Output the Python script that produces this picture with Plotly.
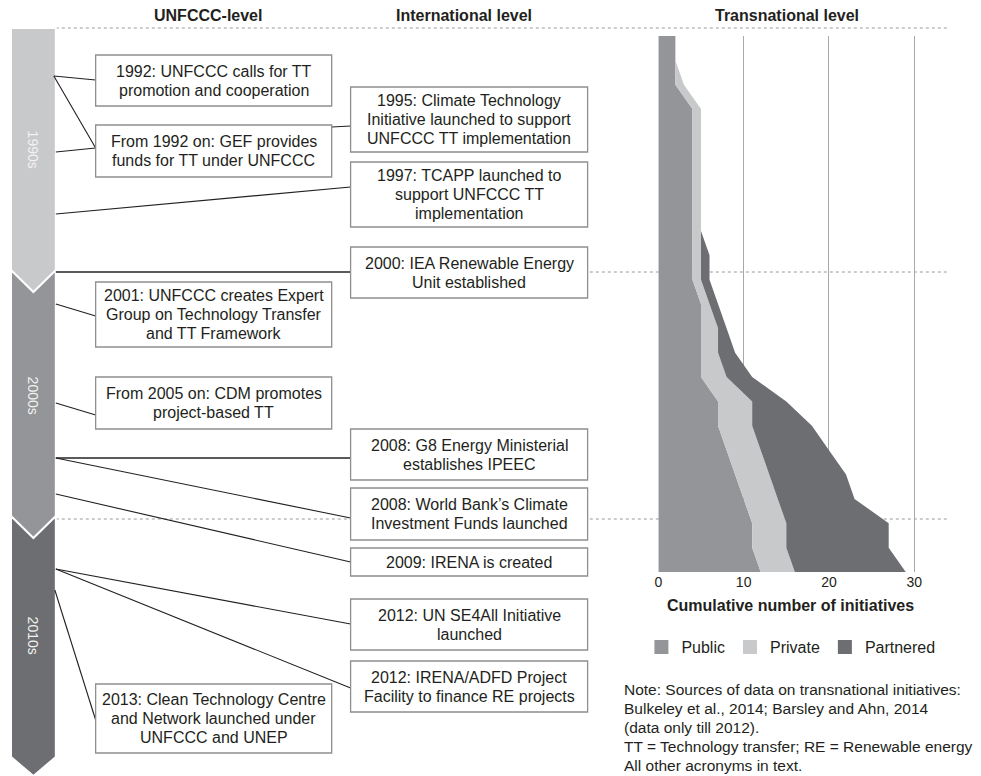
import plotly.graph_objects as go

W, H = 981, 776          # reference picture size (pixels)
OFF = 8                  # page body margin: the figure starts 8px in from the window corner
FONT = "Liberation Sans, Arial, Helvetica, sans-serif"
INK = "#231f20"

# ---------------- data (transnational initiatives, cumulative) ----------------
years = list(range(1990, 2013))
public = [2, 2, 2, 4, 4, 4, 4, 4, 4, 4, 4, 5, 5, 5, 5, 7, 7, 8, 9, 10, 11, 11, 12]
private = [0, 0, 1, 1, 1, 1, 1, 1, 1, 1, 1, 1, 2, 2, 3, 4, 4, 4, 4, 4, 4, 4, 4]
partnered = [0, 0, 0, 0, 0, 0, 0, 0, 0, 1, 1, 1, 1, 2, 3, 4, 7, 8, 9, 9, 12, 12, 13]
series_names = ["Public", "Private", "Partnered"]
series_colors = ["#939598", "#c8c9cb", "#6d6e71"]
x_ticks = [0, 10, 20, 30]

column_titles = ["UNFCCC-level", "International level", "Transnational level"]
decades = ["1990s", "2000s", "2010s"]
decade_colors = ["#c8c9cb", "#939598", "#6d6e71"]

box_texts = [
    ["1992: UNFCCC calls for TT", "promotion and cooperation"],
    ["From 1992 on: GEF provides", "funds for TT under UNFCCC"],
    ["1995: Climate Technology", "Initiative launched to support", "UNFCCC TT implementation"],
    ["1997: TCAPP launched to", "support UNFCCC TT", "implementation"],
    ["2000: IEA Renewable Energy", "Unit established"],
    ["2001: UNFCCC creates Expert", "Group on Technology Transfer", "and TT Framework"],
    ["From 2005 on: CDM promotes", "project-based TT"],
    ["2008: G8 Energy Ministerial", "establishes IPEEC"],
    ["2008: World Bank\u2019s Climate", "Investment Funds launched"],
    ["2009: IRENA is created"],
    ["2012: UN SE4All Initiative", "launched"],
    ["2012: IRENA/ADFD Project", "Facility to finance RE projects"],
    ["2013: Clean Technology Centre", "and Network launched under", "UNFCCC and UNEP"],
]

note_lines = [
    "Note: Sources of data on transnational initiatives:",
    "Bulkeley et al., 2014; Barsley and Ahn, 2014",
    "(data only till 2012).",
    "TT = Technology transfer; RE = Renewable energy",
    "All other acronyms in text.",
]
axis_title = "Cumulative number of initiatives"

# ---------------- layout geometry (reference pixels) ----------------
LX0, LX1 = 92, 329      # UNFCCC column boxes
RX0, RX1 = 348, 586     # international column boxes
box_rows = [(55, 106), (125, 177), (87, 152), (162, 227), (247, 298), (282, 347),
            (377, 429), (429, 480), (488, 540), (548, 576), (599, 650), (661, 712), (684, 753)]
box_cols = ["L", "L", "R", "R", "R", "L", "L", "R", "R", "R", "R", "R", "L"]

connectors = [  # (x0, y0, x1, y1, style)
    (50, 76, 92, 80, "thin"), (50, 76, 92, 148, "thin"), (52, 152, 92, 148, "thin"),
    (329, 127, 348, 126, "thin"), (52, 214, 348, 187, "thin"),
    (52, 272, 348, 272, "thick"), (52, 304, 92, 316, "thin"), (52, 403, 92, 415, "thin"),
    (52, 458, 348, 458, "thick"), (52, 458, 348, 518, "thin"), (52, 494, 348, 562, "thin"),
    (52, 569, 348, 624, "thin"), (52, 569, 348, 688, "thin"), (51, 590, 92, 720, "thin"),
]
dotted_y = [28, 272, 519]

# chart placement
CH_X0 = 657           # pixel of x = 0
PX_PER_UNIT = 8.567
X_MAX = 31
CH_TOP, CH_BOT = 36, 572

FW, FH = W - OFF, H - OFF


def px_x(p):
    return (p - OFF) / FW


def px_y(p):
    return 1 - (p - OFF) / FH


fig = go.Figure()

# stacked areas
for name, vals, col in zip(series_names, [public, private, partnered], series_colors):
    fig.add_trace(go.Scatter(
        x=vals, y=years, xaxis="x2", yaxis="y2", stackgroup="one", orientation="h",
        mode="none", fillcolor=col, name=name, showlegend=False, hoverinfo="skip"))
# legend entries (square swatches)
for name, col in zip(series_names, series_colors):
    fig.add_trace(go.Scatter(
        x=[None], y=[None], xaxis="x2", yaxis="y2", mode="markers", name=name,
        marker=dict(symbol="square", size=14, color=col), showlegend=True))

shapes = []
# dotted decade separators (below the chart)
for yy in dotted_y:
    shapes.append(dict(type="line", xref="x", yref="y", x0=52, x1=947, y0=yy, y1=yy,
                       line=dict(color="#9a9a9a", width=1, dash="dot"), layer="below"))

# decade arrow segments (drawn bottom to top so the chevrons overlap)
seg_paths = [
    "M7,518 L52,518 L52,757 L29.5,776 L7,757 Z",
    "M7,272 L52,272 L52,516 L29.5,538 L7,516 Z",
    "M7,28 L52,28 L52,270 L29.5,292 L7,270 Z",
]
for path, col in zip(seg_paths, decade_colors[::-1]):
    shapes.append(dict(type="path", xref="x", yref="y", path=path, fillcolor=col,
                       line=dict(color="white", width=2), layer="above"))

# connectors
for x0, y0, x1, y1, st in connectors:
    ln = dict(color=INK, width=1.1) if st == "thin" else dict(color="#5a5a5a", width=2)
    shapes.append(dict(type="line", xref="x", yref="y", x0=x0, y0=y0, x1=x1, y1=y1,
                       line=ln, layer="above"))

annotations = []
# boxes
for lines, (y0, y1), col in zip(box_texts, box_rows, box_cols):
    x0, x1 = (LX0, LX1) if col == "L" else (RX0, RX1)
    shapes.append(dict(type="rect", xref="x", yref="y", x0=x0, x1=x1, y0=y0, y1=y1,
                       fillcolor="white", line=dict(color="#8f8f8f", width=1.3), layer="above"))
    cx, cy = (x0 + x1) / 2, (y0 + y1) / 2
    n = len(lines)
    for i, t in enumerate(lines):
        annotations.append(dict(xref="x", yref="y", x=cx, y=cy + (i - (n - 1) / 2) * 19,
                                text=t, showarrow=False, xanchor="center", yanchor="middle",
                                font=dict(family=FONT, size=16, color=INK)))

# column titles
for t, cx in zip(column_titles, [205, 462, 786]):
    annotations.append(dict(xref="x", yref="y", x=cx, y=15, text="<b>%s</b>" % t,
                            showarrow=False, xanchor="center", yanchor="middle",
                            font=dict(family=FONT, size=16, color=INK)))

# decade labels
for t, cy in zip(decades, [150, 396, 636]):
    annotations.append(dict(xref="x", yref="y", x=29.5, y=cy, text=t, textangle=90,
                            showarrow=False, xanchor="center", yanchor="middle",
                            font=dict(family=FONT, size=14, color="#f2f2f2")))

# notes
for i, t in enumerate(note_lines):
    annotations.append(dict(xref="x", yref="y", x=621, y=689 + i * 19.2, text=t,
                            showarrow=False, xanchor="left", yanchor="middle",
                            font=dict(family=FONT, size=15.5, color=INK)))

x_right_px = CH_X0 + X_MAX * PX_PER_UNIT
fig.update_layout(
    width=FW, height=FH, margin=dict(l=0, r=0, t=0, b=0),
    paper_bgcolor="white", plot_bgcolor="rgba(0,0,0,0)",
    font=dict(family=FONT, color=INK),
    xaxis=dict(range=[OFF, W], domain=[0, 1], visible=False, fixedrange=True),
    yaxis=dict(range=[H, OFF], domain=[0, 1], visible=False, fixedrange=True),
    xaxis2=dict(range=[0, X_MAX], domain=[px_x(CH_X0), px_x(x_right_px)], anchor="y2",
                tickvals=x_ticks, showgrid=True, gridcolor="#a7a9ac", gridwidth=1,
                zeroline=False, showline=False, ticks="",
                tickfont=dict(family=FONT, size=14, color=INK),
                title=dict(text="<b>%s</b>" % axis_title, standoff=10,
                           font=dict(family=FONT, size=16, color=INK))),
    yaxis2=dict(range=[2012, 1990], domain=[px_y(CH_BOT), px_y(CH_TOP)], anchor="x2",
                visible=False, showgrid=False),
    showlegend=True,
    legend=dict(orientation="h", x=px_x(640), y=px_y(647), xanchor="left", yanchor="middle",
                traceorder="normal",
                font=dict(family=FONT, size=16, color=INK), bgcolor="rgba(0,0,0,0)",
                itemclick=False, itemdoubleclick=False),
    shapes=shapes, annotations=annotations,
)

fig.write_html("out.html")
